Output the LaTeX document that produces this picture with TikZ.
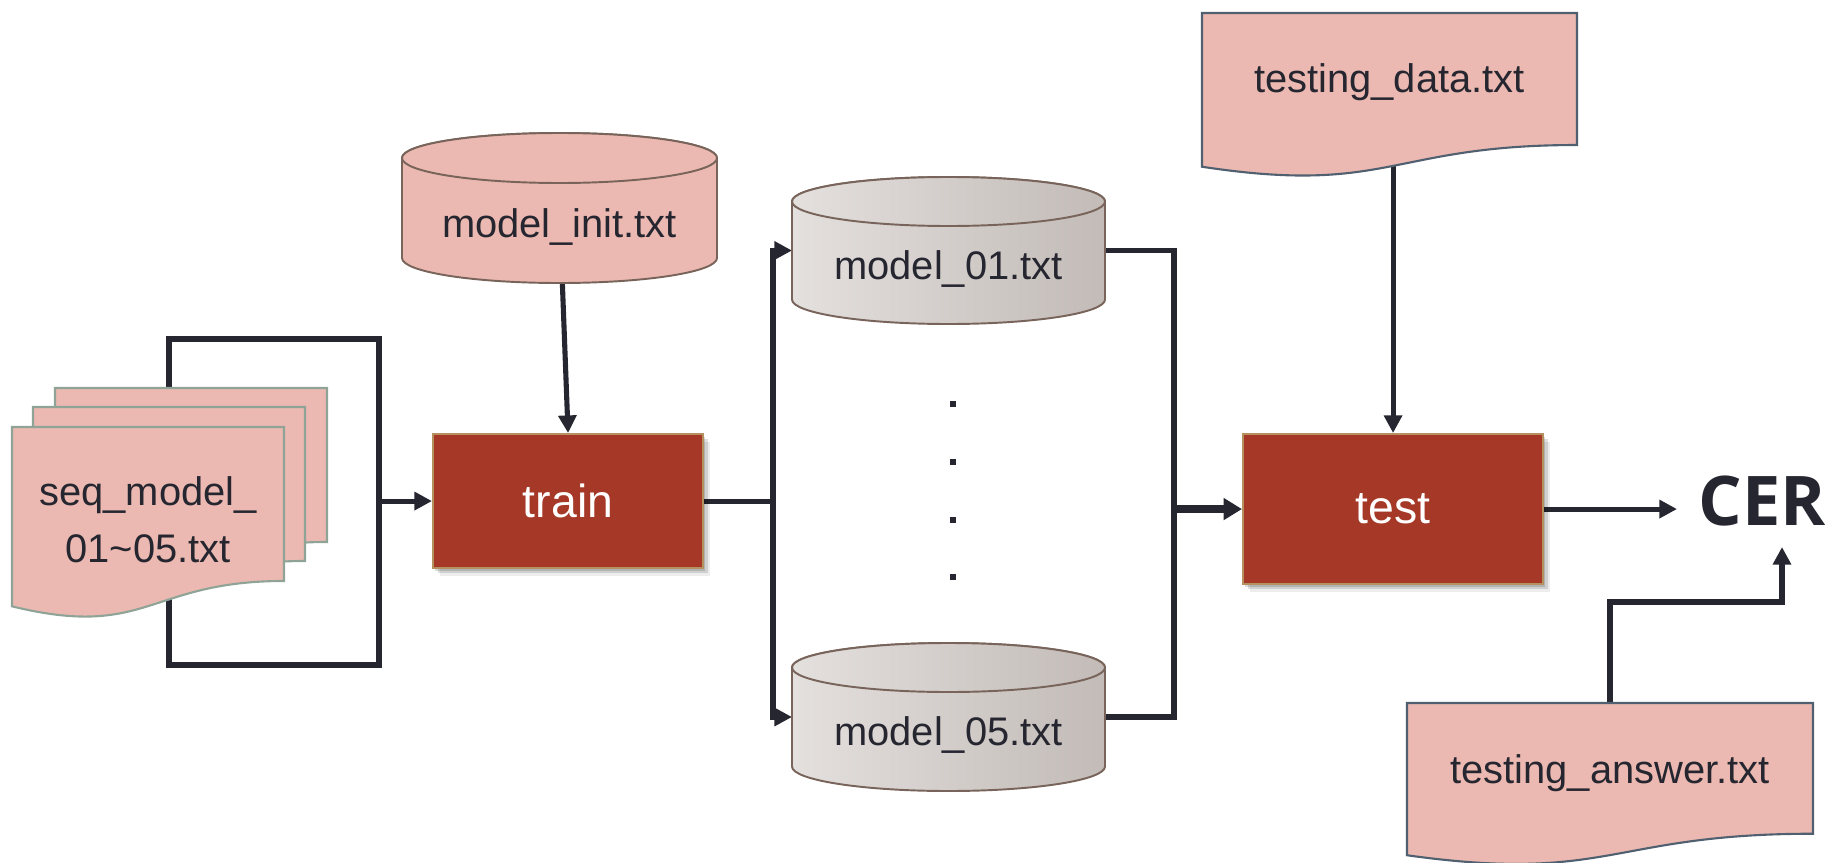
\documentclass[tikz,border=0pt]{standalone}
\usepackage{fontspec}
\setmainfont{Liberation Sans}
\newfontfamily\cerfont{Open Sans}
\usetikzlibrary{calc,arrows.meta,shadows}

% one drawing unit = one pixel of the 1825 x 862 canvas
\newcommand\pxu{0.02cm}
\newcommand\lblfont{\fontsize{22.7}{32.3}\selectfont}
\newcommand\boxfont{\fontsize{26.4}{30}\selectfont}

\definecolor{ink}{HTML}{262630}
\definecolor{pinkfill}{HTML}{EBB9B1}
\definecolor{seqedge}{HTML}{8FA497}
\definecolor{docedge}{HTML}{506070}
\definecolor{cyledge}{HTML}{78645A}
\definecolor{cylL}{HTML}{E4E0DE}
\definecolor{cylR}{HTML}{C2BBB7}
\definecolor{boxfill}{HTML}{A53826}
\definecolor{boxedge}{HTML}{B4915F}

\pgfdeclarelayer{conn}
\pgfdeclarelayer{shapes}
\pgfsetlayers{conn,shapes,main}

% flowchart "document" outline with a wavy bottom edge
% #1 style, #2 frame node, #3 width (px), #4 full height (px)
\newcommand\docshape[4]{%
  \path[#1] (#2.north west) -- (#2.north east)
    -- ($(#2.north east)+(0,0.802*#4)$)
    .. controls ($(#2.north west)+(0.5*#3,0.802*#4)$) and ($(#2.north west)+(0.5*#3,1.1075*#4)$)
    .. ($(#2.north west)+(0,0.934*#4)$) -- cycle;}

% database cylinder filling a frame node
% #1 style, #2 frame node, #3 width (px), #4 radius of the end ellipses (px)
\newcommand\cylshape[4]{%
  \path[#1] ($(#2.north west)+(0,#4)$) -- ($(#2.south west)+(0,-#4)$)
    arc[start angle=180, end angle=360, x radius=0.5*#3*\pxu, y radius=#4*\pxu]
    -- ($(#2.north east)+(0,#4)$)
    arc[start angle=0, end angle=180, x radius=0.5*#3*\pxu, y radius=#4*\pxu] -- cycle;
  \path[#1] ($(#2.north)+(0,#4)$) ellipse[x radius=0.5*#3*\pxu, y radius=#4*\pxu];}

\tikzset{
  line/.style={draw=ink, line width=2.9pt},
  arr/.style={line, -{Triangle[length=10pt,width=10pt]}},
  arrthick/.style={draw=ink, line width=4.8pt, -{Triangle[length=10.5pt,width=12pt]}},
  frame/.style={anchor=north west, inner sep=0pt, outer sep=0pt, draw=none},
  docbox/.style={frame, font=\lblfont, text=ink, align=center},
  lbl/.style={font=\lblfont, text=ink, inner sep=0pt},
  procbox/.style={anchor=north west, draw=boxedge, line width=1.2pt, fill=boxfill,
    text=white, font=\boxfont,
    drop shadow={shadow xshift=1.2pt, shadow yshift=-1.5pt, fill=black, opacity=0.14},
    drop shadow={shadow xshift=2.6pt, shadow yshift=-3pt, fill=black, opacity=0.12},
    drop shadow={shadow xshift=4pt, shadow yshift=-4.5pt, fill=black, opacity=0.07}},
  dotmark/.style={fill=ink, inner sep=0pt, minimum size=6*\pxu},
  seqdoc/.style={fill=pinkfill, draw=seqedge, line width=1.2pt},
  tdoc/.style={fill=pinkfill, draw=docedge, line width=1.2pt},
  pinkcyl/.style={fill=pinkfill, draw=cyledge, line width=1.1pt},
  graycyl/.style={left color=cylL, right color=cylR, draw=cyledge, line width=1.1pt}
}

\begin{document}
\begin{tikzpicture}[x=\pxu, y=-\pxu]
\useasboundingbox (0,0) rectangle (1825,862);

% input sequence files (stack of three)
\node[docbox, minimum width=272*\pxu, minimum height=192*\pxu] (seq3) at (55,388) {};
\node[docbox, minimum width=272*\pxu, minimum height=192*\pxu] (seq2) at (33,407) {};
\node[docbox, minimum width=272*\pxu, minimum height=186*\pxu] (seq) at (12,427)
  {seq\_model\_\\01\textasciitilde05.txt};

% initial model
\node[frame, minimum width=315*\pxu, minimum height=150*\pxu] (init) at (402,133) {};
\node[lbl, anchor=base] (init-label) at ($(init.north)+(0,104)$) {model\_init.txt};

% processing steps
\node[procbox, minimum width=270*\pxu, minimum height=134*\pxu] (train) at (432,433) {train};
\node[procbox, minimum width=300*\pxu, minimum height=150*\pxu] (test) at (1242,433) {test};

% trained models
\node[frame, minimum width=313*\pxu, minimum height=147*\pxu] (m01) at (792,177) {};
\node[lbl, anchor=base] (m01-label) at ($(m01.north)+(0,102)$) {model\_01.txt};
\node[frame, minimum width=313*\pxu, minimum height=148*\pxu] (m05) at (792,643) {};
\node[lbl, anchor=base] (m05-label) at ($(m05.north)+(0,102)$) {model\_05.txt};

% vertical ellipsis between the models
\node[dotmark] (dot1) at (953,404) {};
\node[dotmark] (dot2) at (953,462) {};
\node[dotmark] (dot3) at (953,520) {};
\node[dotmark] (dot4) at (953,577) {};

% test data and reference answers
\node[docbox, minimum width=375*\pxu, minimum height=138*\pxu] (tdata) at (1202,13) {testing\_data.txt};
\node[docbox, minimum width=406*\pxu, minimum height=140*\pxu] (ans) at (1407,703) {testing\_answer.txt};

% result
\node[anchor=base west, inner sep=21*\pxu, text=ink,
  font=\cerfont\bfseries\fontsize{39}{47}\selectfont] (cer) at (1677,525) {CER};

\begin{pgfonlayer}{shapes}
  \docshape{seqdoc}{seq3}{272}{192}
  \docshape{seqdoc}{seq2}{272}{192}
  \docshape{seqdoc}{seq}{272}{192}
  \docshape{tdoc}{tdata}{375}{164.6}
  \docshape{tdoc}{ans}{406}{163}
  \cylshape{pinkcyl}{init}{315}{25}
  \cylshape{graycyl}{m01}{313}{24.5}
  \cylshape{graycyl}{m05}{313}{24.5}
\end{pgfonlayer}

\begin{pgfonlayer}{conn}
  % loop around the sequence files, feeding train
  \coordinate (loopTL) at (169,339);
  \coordinate (loopBR) at (379,665);
  \draw[line] (seq.center -| loopTL) -- (loopTL) -| (loopBR) -| (seq.center -| loopTL);
  \draw[arr] (train.west -| loopBR) -- (train.west);
  \draw[arr] (init.center) -- (train.north);
  % train fans out to the models
  \coordinate (lbus) at (773,0);
  \draw[line] (train.east) -- (train.east -| lbus);
  \draw[arr] (train.east -| lbus) |- (m01.west);
  \draw[arr] (train.east -| lbus) |- (m05.west);
  % models gather into test
  \coordinate (rbus) at (1174,0);
  \draw[line] (m01.east) -| (test.west -| rbus) |- (m05.east);
  \draw[arrthick] (test.west -| rbus) -- (test.west);
  \draw[arr] (tdata.center -| test.north) -- (test.north);
  % scoring
  \draw[arr] (test.east) -- (test.east -| cer.west);
  \draw[arr] (ans.north) |- ($(cer.south)+(20,55)$) -- ($(cer.south)+(20,0)$);
\end{pgfonlayer}
\end{tikzpicture}
\end{document}
